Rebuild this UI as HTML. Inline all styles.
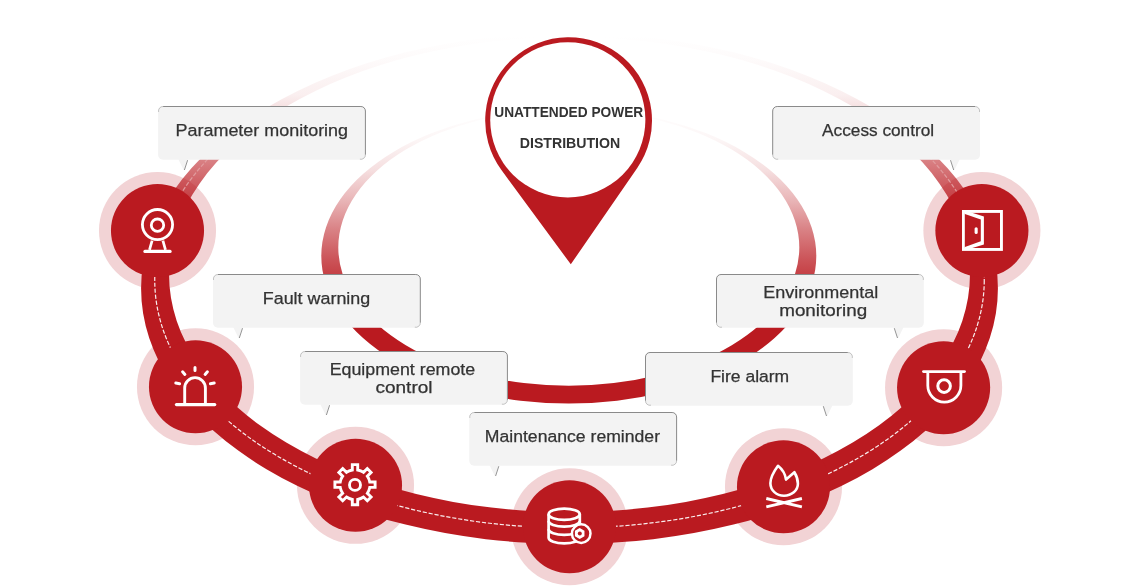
<!DOCTYPE html>
<html><head><meta charset="utf-8"><style>
html,body{margin:0;padding:0;background:#fff;width:1139px;height:587px;overflow:hidden}
svg{display:block;will-change:transform}
.lbl{font-family:"Liberation Sans",sans-serif;font-size:16.8px;fill:#333333;stroke:#333333;stroke-width:0.25px}
.pint{font-family:"Liberation Sans",sans-serif;font-size:14.8px;font-weight:bold;fill:#333}
</style></head><body>
<svg width="1139" height="587" viewBox="0 0 1139 587">
<defs>
<linearGradient id="gInner" gradientUnits="userSpaceOnUse" x1="0" y1="108" x2="0" y2="320">
<stop offset="0" stop-color="#ba1a20" stop-opacity="0"/>
<stop offset="0.15" stop-color="#ba1a20" stop-opacity="0.04"/>
<stop offset="0.292" stop-color="#ba1a20" stop-opacity="0.14"/>
<stop offset="0.434" stop-color="#ba1a20" stop-opacity="0.32"/>
<stop offset="0.575" stop-color="#ba1a20" stop-opacity="0.55"/>
<stop offset="0.717" stop-color="#ba1a20" stop-opacity="0.75"/>
<stop offset="0.858" stop-color="#ba1a20" stop-opacity="0.92"/>
<stop offset="1" stop-color="#ba1a20" stop-opacity="1"/>
</linearGradient>
<linearGradient id="gOuter" gradientUnits="userSpaceOnUse" x1="0" y1="35" x2="0" y2="270">
<stop offset="0" stop-color="#ba1a20" stop-opacity="0"/>
<stop offset="0.106" stop-color="#ba1a20" stop-opacity="0.02"/>
<stop offset="0.255" stop-color="#ba1a20" stop-opacity="0.07"/>
<stop offset="0.404" stop-color="#ba1a20" stop-opacity="0.25"/>
<stop offset="0.532" stop-color="#ba1a20" stop-opacity="0.55"/>
<stop offset="0.702" stop-color="#ba1a20" stop-opacity="0.8"/>
<stop offset="1" stop-color="#ba1a20" stop-opacity="1"/>
</linearGradient>
<linearGradient id="gDash" gradientUnits="userSpaceOnUse" x1="0" y1="130" x2="0" y2="270">
<stop offset="0" stop-color="#fff" stop-opacity="0"/>
<stop offset="0.3" stop-color="#fff" stop-opacity="0.3"/>
<stop offset="0.6" stop-color="#fff" stop-opacity="0.65"/>
<stop offset="1" stop-color="#fff" stop-opacity="0.92"/>
</linearGradient>
</defs>
<rect width="1139" height="587" fill="#fff"/>
<path d="M321.30,256.00 A247.50,147.50 0 1 0 816.30,256.00 A247.50,147.50 0 1 0 321.30,256.00 Z M338.30,247.40 A230.50,138.30 0 1 0 799.30,247.40 A230.50,138.30 0 1 0 338.30,247.40 Z" fill="url(#gInner)" fill-rule="evenodd"/><circle cx="157.5" cy="230.6" r="58.55" fill="#f2d3d5"/><circle cx="195.5" cy="386.75" r="58.55" fill="#f2d3d5"/><circle cx="355.5" cy="485.3" r="58.55" fill="#f2d3d5"/><circle cx="569.5" cy="526.75" r="58.55" fill="#f2d3d5"/><circle cx="783.5" cy="486.75" r="58.55" fill="#f2d3d5"/><circle cx="943.6" cy="387.7" r="58.55" fill="#f2d3d5"/><circle cx="981.9" cy="230.6" r="58.55" fill="#f2d3d5"/><path d="M141.09,288.47 A428.41,255.47 0 1 0 997.91,288.47 A428.41,255.47 0 1 0 141.09,288.47 Z M169.04,274.56 A400.46,237.47 0 1 0 969.96,274.56 A400.46,237.47 0 1 0 169.04,274.56 Z" fill="url(#gOuter)" fill-rule="evenodd"/><ellipse cx="569.5" cy="280.3" rx="414.75" ry="247.55" fill="none" stroke="url(#gDash)" stroke-width="1.2" stroke-dasharray="4.2 1.8"/><circle cx="157.5" cy="230.6" r="46.55" fill="#ba1a20"/><circle cx="195.5" cy="386.75" r="46.55" fill="#ba1a20"/><circle cx="355.5" cy="485.3" r="46.55" fill="#ba1a20"/><circle cx="569.5" cy="526.75" r="46.55" fill="#ba1a20"/><circle cx="783.5" cy="486.75" r="46.55" fill="#ba1a20"/><circle cx="943.6" cy="387.7" r="46.55" fill="#ba1a20"/><circle cx="981.9" cy="230.6" r="46.55" fill="#ba1a20"/><g stroke="#fff" fill="none" stroke-width="2.8" stroke-linecap="round"><circle cx="157.5" cy="224.6" r="15.1"/><circle cx="157.5" cy="225.2" r="6.2"/><path d="M152.1,240.6 L149.5,249.8 M162.9,240.6 L165.5,249.8" stroke-linecap="butt" stroke-width="2.7"/><path d="M144.9,251.4 H170.1" stroke-width="3.1"/></g><g stroke="#fff" fill="none" stroke-width="2.9" stroke-linecap="round"><path d="M176.4,404.6 H214.8" stroke-width="3.1"/><path d="M184.7,404.6 V388 A10.35,10.35 0 0 1 205.4,388 V404.6" stroke-linecap="butt"/><path d="M195,367.4 V370.6 M182.6,371.8 L184.9,374.4 M207.4,371.8 L205.1,374.4 M175.8,383.1 L179.6,383.8 M214.2,383.1 L210.4,383.8" stroke-width="3"/></g><g stroke="#fff" fill="none" stroke-width="2.9" stroke-linejoin="miter"><path d="M352.30,469.95 L352.30,464.60 L357.70,464.60 L357.70,469.95 A15.0,15.0 0 0 1 363.52,472.36 L363.52,472.36 L367.30,468.58 L371.12,472.40 L367.34,476.18 A15.0,15.0 0 0 1 369.75,482.00 L369.75,482.00 L375.10,482.00 L375.10,487.40 L369.75,487.40 A15.0,15.0 0 0 1 367.34,493.22 L367.34,493.22 L371.12,497.00 L367.30,500.82 L363.52,497.04 A15.0,15.0 0 0 1 357.70,499.45 L357.70,499.45 L357.70,504.80 L352.30,504.80 L352.30,499.45 A15.0,15.0 0 0 1 346.48,497.04 L346.48,497.04 L342.70,500.82 L338.88,497.00 L342.66,493.22 A15.0,15.0 0 0 1 340.25,487.40 L340.25,487.40 L334.90,487.40 L334.90,482.00 L340.25,482.00 A15.0,15.0 0 0 1 342.66,476.18 L342.66,476.18 L338.88,472.40 L342.70,468.58 L346.48,472.36 A15.0,15.0 0 0 1 352.30,469.95 Z"/><circle cx="355" cy="484.9" r="5.5" stroke-width="2.9"/></g><g stroke="#fff" fill="none" stroke-width="2.7"><ellipse cx="564.2" cy="514.3" rx="15.6" ry="5.6"/><path d="M548.6,514.3 V537.8 A15.6,5.6 0 0 0 579.8,537.8 V514.3"/><path d="M548.6,521.0 A15.6,5.6 0 0 0 579.8,521.0"/><path d="M548.6,529.3 A15.6,5.6 0 0 0 579.8,529.3"/></g><circle cx="581.2" cy="533.6" r="9.6" fill="#ba1a20"/><circle cx="581.2" cy="533.6" r="9.3" fill="none" stroke="#fff" stroke-width="2.5"/><polygon points="579.7,528 584.46,530.75 584.46,536.25 579.7,539 574.94,536.25 574.94,530.75" fill="#fff"/><circle cx="579.8" cy="533.4" r="2.0" fill="#ba1a20"/><g stroke="#fff" fill="none" stroke-width="2.6" stroke-linejoin="round"><path d="M778,465.8 C782.3,469.2 785.3,474.3 786,479.6 L794.4,472.2 C796.6,475.8 797.9,479.6 797.9,483.8 C797.9,490.6 791.6,495.7 784,495.7 C776.4,495.7 770.4,490.3 770.4,483.3 C770.4,476.8 774.2,471 778,465.8 Z"/><path d="M766.3,498.5 L801.9,506.9 M766.3,506.9 L801.9,498.5" stroke-width="2.9"/></g><g stroke="#fff" fill="none" stroke-width="2.8" stroke-linecap="round"><path d="M923.5,371.6 H964.5"/><path d="M927.8,371.6 V385.5 A16.55,16.55 0 0 0 960.9,385.5 V371.6" stroke-linecap="butt"/><circle cx="944.1" cy="386.1" r="6.3" stroke-width="3"/></g><rect x="963.45" y="211.45" width="38" height="38" fill="none" stroke="#fff" stroke-width="2.9"/><polygon points="964.9,210.6 983.9,216.4 983.9,244.4 964.9,250.2" fill="#fff"/><polygon points="964.9,213.9 980.8,219.5 980.8,241.3 964.9,246.9" fill="#ba1a20"/><rect x="974.6" y="227.2" width="3.1" height="6.7" rx="1.5" fill="#fff"/><path d="M570.8,264.3 L501.43,170.03 A83.4,83.4 0 1 1 637.25,167.95 Z" fill="#ba1a20"/><circle cx="567.8" cy="119.8" r="77.6" fill="#fff"/><text x="568.75" y="117.2" text-anchor="middle" class="pint" textLength="149" lengthAdjust="spacingAndGlyphs">UNATTENDED POWER</text><text x="570" y="147.6" text-anchor="middle" class="pint" textLength="100.5" lengthAdjust="spacingAndGlyphs">DISTRIBUTION</text><rect x="158.10" y="106.00" width="207.8" height="53.7" rx="5" fill="#f3f3f3"/><polygon points="178.10,158.70 187.60,158.70 183.90,170.50" fill="#f3f3f3"/><line x1="187.60" y1="160.20" x2="184.40" y2="170.00" stroke="#808080" stroke-width="0.85"/><path d="M163.10,106.50 H360.90 A4.5,4.5 0 0 1 365.40,111.00 V154.70" fill="none" stroke="#8a8a8a" stroke-width="1"/><path d="M158.60,112.00 A4.5,4.5 0 0 1 163.10,106.50" fill="none" stroke="#8a8a8a" stroke-width="1" opacity="0.45"/><path d="M365.40,154.70 A4.5,4.5 0 0 1 359.90,159.20" fill="none" stroke="#8a8a8a" stroke-width="1" opacity="0.45"/><text x="261.80" y="136.00" text-anchor="middle" textLength="172.5" lengthAdjust="spacingAndGlyphs" class="lbl">Parameter monitoring</text><rect x="213.00" y="274.00" width="207.8" height="53.7" rx="5" fill="#f3f3f3"/><polygon points="233.00,326.70 242.50,326.70 238.80,338.50" fill="#f3f3f3"/><line x1="242.50" y1="328.20" x2="239.30" y2="338.00" stroke="#808080" stroke-width="0.85"/><path d="M218.00,274.50 H415.80 A4.5,4.5 0 0 1 420.30,279.00 V322.70" fill="none" stroke="#8a8a8a" stroke-width="1"/><path d="M213.50,280.00 A4.5,4.5 0 0 1 218.00,274.50" fill="none" stroke="#8a8a8a" stroke-width="1" opacity="0.45"/><path d="M420.30,322.70 A4.5,4.5 0 0 1 414.80,327.20" fill="none" stroke="#8a8a8a" stroke-width="1" opacity="0.45"/><text x="316.50" y="304.00" text-anchor="middle" textLength="107.5" lengthAdjust="spacingAndGlyphs" class="lbl">Fault warning</text><rect x="300.10" y="351.00" width="207.8" height="53.7" rx="5" fill="#f3f3f3"/><polygon points="320.10,403.70 329.60,403.70 325.90,415.50" fill="#f3f3f3"/><line x1="329.60" y1="405.20" x2="326.40" y2="415.00" stroke="#808080" stroke-width="0.85"/><path d="M305.10,351.50 H502.90 A4.5,4.5 0 0 1 507.40,356.00 V399.70" fill="none" stroke="#8a8a8a" stroke-width="1"/><path d="M300.60,357.00 A4.5,4.5 0 0 1 305.10,351.50" fill="none" stroke="#8a8a8a" stroke-width="1" opacity="0.45"/><path d="M507.40,399.70 A4.5,4.5 0 0 1 501.90,404.20" fill="none" stroke="#8a8a8a" stroke-width="1" opacity="0.45"/><text x="402.40" y="375.30" text-anchor="middle" textLength="145.5" lengthAdjust="spacingAndGlyphs" class="lbl">Equipment remote</text><text x="404.00" y="392.90" text-anchor="middle" textLength="57" lengthAdjust="spacingAndGlyphs" class="lbl">control</text><rect x="469.30" y="412.00" width="207.8" height="53.7" rx="5" fill="#f3f3f3"/><polygon points="489.30,464.70 498.80,464.70 495.10,476.50" fill="#f3f3f3"/><line x1="498.80" y1="466.20" x2="495.60" y2="476.00" stroke="#808080" stroke-width="0.85"/><path d="M474.30,412.50 H672.10 A4.5,4.5 0 0 1 676.60,417.00 V460.70" fill="none" stroke="#8a8a8a" stroke-width="1"/><path d="M469.80,418.00 A4.5,4.5 0 0 1 474.30,412.50" fill="none" stroke="#8a8a8a" stroke-width="1" opacity="0.45"/><path d="M676.60,460.70 A4.5,4.5 0 0 1 671.10,465.20" fill="none" stroke="#8a8a8a" stroke-width="1" opacity="0.45"/><text x="572.40" y="442.00" text-anchor="middle" textLength="175.2" lengthAdjust="spacingAndGlyphs" class="lbl">Maintenance reminder</text><rect x="772.20" y="106.00" width="207.8" height="53.7" rx="5" fill="#f3f3f3"/><polygon points="950.50,158.70 960.00,158.70 954.20,170.50" fill="#f3f3f3"/><line x1="950.50" y1="160.20" x2="953.70" y2="170.00" stroke="#808080" stroke-width="0.85"/><path d="M975.00,106.50 H777.20 A4.5,4.5 0 0 0 772.70,111.00 V154.70" fill="none" stroke="#8a8a8a" stroke-width="1"/><path d="M979.50,112.00 A4.5,4.5 0 0 0 975.00,106.50" fill="none" stroke="#8a8a8a" stroke-width="1" opacity="0.45"/><path d="M772.70,154.70 A4.5,4.5 0 0 0 778.20,159.20" fill="none" stroke="#8a8a8a" stroke-width="1" opacity="0.45"/><text x="878.10" y="136.00" text-anchor="middle" textLength="112" lengthAdjust="spacingAndGlyphs" class="lbl">Access control</text><rect x="716.00" y="274.00" width="207.8" height="53.7" rx="5" fill="#f3f3f3"/><polygon points="894.30,326.70 903.80,326.70 898.00,338.50" fill="#f3f3f3"/><line x1="894.30" y1="328.20" x2="897.50" y2="338.00" stroke="#808080" stroke-width="0.85"/><path d="M918.80,274.50 H721.00 A4.5,4.5 0 0 0 716.50,279.00 V322.70" fill="none" stroke="#8a8a8a" stroke-width="1"/><path d="M923.30,280.00 A4.5,4.5 0 0 0 918.80,274.50" fill="none" stroke="#8a8a8a" stroke-width="1" opacity="0.45"/><path d="M716.50,322.70 A4.5,4.5 0 0 0 722.00,327.20" fill="none" stroke="#8a8a8a" stroke-width="1" opacity="0.45"/><text x="820.70" y="298.30" text-anchor="middle" textLength="115" lengthAdjust="spacingAndGlyphs" class="lbl">Environmental</text><text x="823.20" y="315.90" text-anchor="middle" textLength="88" lengthAdjust="spacingAndGlyphs" class="lbl">monitoring</text><rect x="645.00" y="352.00" width="207.8" height="53.7" rx="5" fill="#f3f3f3"/><polygon points="823.30,404.70 832.80,404.70 827.00,416.50" fill="#f3f3f3"/><line x1="823.30" y1="406.20" x2="826.50" y2="416.00" stroke="#808080" stroke-width="0.85"/><path d="M847.80,352.50 H650.00 A4.5,4.5 0 0 0 645.50,357.00 V400.70" fill="none" stroke="#8a8a8a" stroke-width="1"/><path d="M852.30,358.00 A4.5,4.5 0 0 0 847.80,352.50" fill="none" stroke="#8a8a8a" stroke-width="1" opacity="0.45"/><path d="M645.50,400.70 A4.5,4.5 0 0 0 651.00,405.20" fill="none" stroke="#8a8a8a" stroke-width="1" opacity="0.45"/><text x="749.80" y="382.00" text-anchor="middle" textLength="78.8" lengthAdjust="spacingAndGlyphs" class="lbl">Fire alarm</text>
</svg>
</body></html>
